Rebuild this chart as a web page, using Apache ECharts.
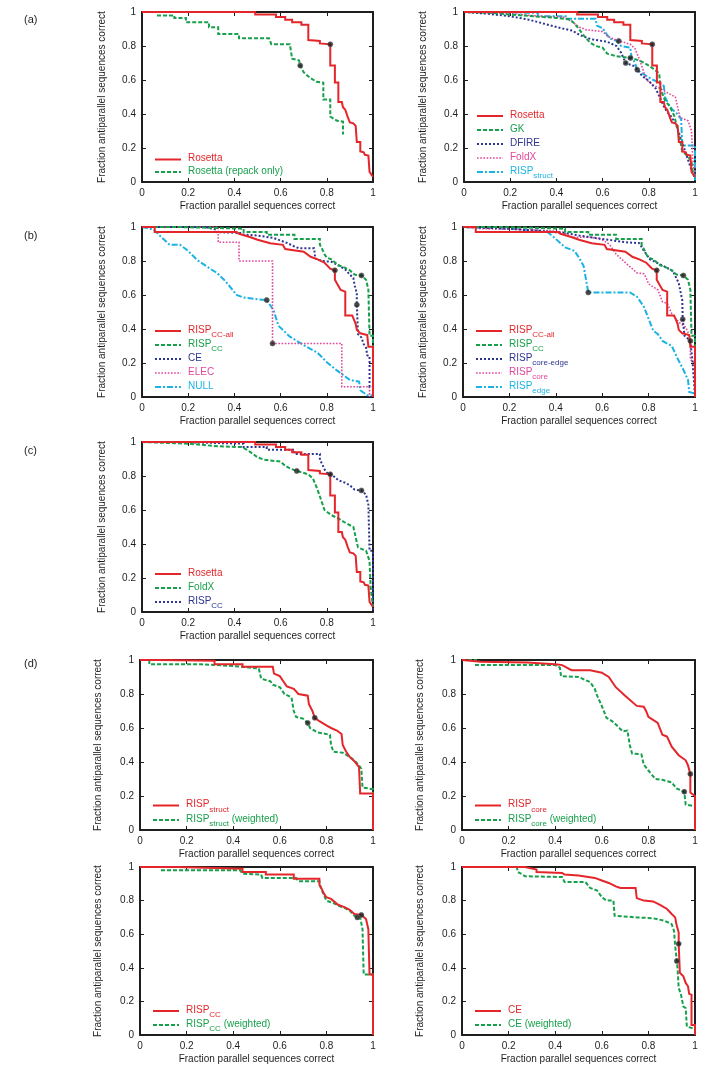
<!DOCTYPE html>
<html><head><meta charset="utf-8">
<script src="https://cdn.jsdelivr.net/npm/echarts@6/dist/echarts.min.js"></script>
<style>html,body{margin:0;padding:0;background:#fff}#c{width:716px;height:1078px}</style>
</head><body><div id="c"></div>
<script>
// ---------- tick labels / titles ----------
const tickLabels = ['0', '0.2', '0.4', '0.6', '0.8', '1'];
const xTitle = 'Fraction parallel sequences correct';
const yTitle = 'Fraction antiparallel sequences correct';
const panelLabels = ['(a)', '(b)', '(c)', '(d)'];

// ---------- curves: [fraction parallel correct, fraction antiparallel correct] ----------
const rosetta = [[0,1],[0.49,1],[0.49,0.985],[0.58,0.985],[0.58,0.97],[0.62,0.97],[0.62,0.955],[0.65,0.955],[0.65,0.94],[0.69,0.94],[0.69,0.925],[0.72,0.925],[0.72,0.835],[0.77,0.83],[0.77,0.815],[0.815,0.81],[0.815,0.685],[0.835,0.685],[0.835,0.585],[0.85,0.585],[0.85,0.47],[0.865,0.47],[0.87,0.44],[0.88,0.425],[0.89,0.385],[0.90,0.35],[0.915,0.345],[0.925,0.33],[0.93,0.235],[0.945,0.235],[0.945,0.18],[0.96,0.175],[0.965,0.16],[0.98,0.155],[0.985,0.06],[0.995,0.04],[1,0.03]];
const rosettaRepack = [[0.065,0.98],[0.14,0.98],[0.14,0.965],[0.19,0.965],[0.19,0.94],[0.29,0.94],[0.29,0.91],[0.33,0.91],[0.33,0.87],[0.42,0.87],[0.42,0.845],[0.55,0.845],[0.56,0.81],[0.64,0.81],[0.65,0.725],[0.68,0.715],[0.685,0.685],[0.70,0.645],[0.725,0.615],[0.755,0.59],[0.785,0.585],[0.785,0.485],[0.815,0.485],[0.815,0.385],[0.845,0.36],[0.87,0.355],[0.87,0.28]];
const gk = [[0,1],[0.12,0.995],[0.2,0.985],[0.3,0.975],[0.4,0.965],[0.46,0.955],[0.48,0.93],[0.5,0.895],[0.52,0.86],[0.545,0.82],[0.57,0.80],[0.6,0.79],[0.62,0.755],[0.66,0.74],[0.72,0.73],[0.76,0.715],[0.80,0.685],[0.83,0.655],[0.845,0.64],[0.85,0.55],[0.87,0.48],[0.89,0.445],[0.91,0.39],[0.93,0.28],[0.945,0.18],[0.97,0.15],[0.985,0.12],[0.99,0.06],[1,0.03]];
const dfire = [[0,1],[0.1,0.99],[0.2,0.975],[0.28,0.955],[0.35,0.93],[0.42,0.905],[0.47,0.89],[0.5,0.865],[0.55,0.84],[0.62,0.825],[0.66,0.80],[0.68,0.76],[0.70,0.70],[0.74,0.68],[0.77,0.625],[0.8,0.595],[0.83,0.55],[0.85,0.49],[0.87,0.43],[0.9,0.38],[0.92,0.33],[0.94,0.25],[0.96,0.17],[0.98,0.09],[1,0.02]];
const foldx = [[0,1],[0.2,0.99],[0.33,0.975],[0.43,0.97],[0.46,0.95],[0.48,0.93],[0.5,0.91],[0.53,0.895],[0.6,0.885],[0.62,0.86],[0.64,0.845],[0.67,0.83],[0.72,0.81],[0.74,0.785],[0.76,0.72],[0.79,0.60],[0.82,0.57],[0.85,0.55],[0.88,0.525],[0.915,0.50],[0.935,0.38],[0.97,0.36],[0.985,0.30],[0.99,0.14],[1,0.03]];
const rispStruct = [[0,1],[0.08,1],[0.08,0.995],[0.32,0.995],[0.32,0.975],[0.44,0.975],[0.44,0.96],[0.57,0.96],[0.575,0.92],[0.6,0.905],[0.615,0.875],[0.63,0.845],[0.66,0.83],[0.68,0.80],[0.72,0.79],[0.725,0.74],[0.74,0.70],[0.75,0.66],[0.77,0.64],[0.8,0.615],[0.82,0.60],[0.845,0.585],[0.865,0.565],[0.87,0.50],[0.885,0.46],[0.9,0.43],[0.92,0.405],[0.94,0.37],[0.945,0.215],[1,0.215],[1,0]];
const rispStructW = [[0.04,1],[0.04,0.975],[0.26,0.975],[0.26,0.965],[0.4,0.965],[0.4,0.955],[0.51,0.95],[0.52,0.89],[0.56,0.875],[0.57,0.855],[0.6,0.84],[0.62,0.80],[0.65,0.78],[0.66,0.70],[0.67,0.665],[0.70,0.655],[0.72,0.63],[0.73,0.60],[0.76,0.575],[0.815,0.56],[0.82,0.50],[0.83,0.46],[0.87,0.455],[0.9,0.43],[0.92,0.41],[0.94,0.38],[0.95,0.36],[0.955,0.25],[1,0.24],[1,0]];
const rispCCall = [[0,1],[0.055,1],[0.055,0.97],[0.41,0.97],[0.42,0.96],[0.47,0.94],[0.5,0.925],[0.555,0.905],[0.61,0.895],[0.62,0.87],[0.70,0.855],[0.73,0.825],[0.76,0.81],[0.79,0.79],[0.815,0.755],[0.835,0.745],[0.835,0.69],[0.86,0.63],[0.88,0.62],[0.88,0.48],[0.91,0.48],[0.925,0.43],[0.93,0.395],[0.945,0.375],[0.975,0.365],[0.98,0.295],[1,0.295],[1,0]];
const rispCC = [[0,1],[0.16,1],[0.16,0.99],[0.44,0.99],[0.44,0.97],[0.54,0.97],[0.54,0.955],[0.66,0.955],[0.66,0.93],[0.77,0.93],[0.77,0.895],[0.78,0.87],[0.79,0.84],[0.80,0.82],[0.82,0.81],[0.85,0.775],[0.88,0.76],[0.90,0.745],[0.92,0.72],[0.95,0.715],[0.97,0.69],[0.98,0.63],[0.985,0.36],[1,0.36],[1,0]];
const rispCCW = [[0.09,0.98],[0.43,0.98],[0.44,0.96],[0.52,0.955],[0.525,0.935],[0.67,0.935],[0.68,0.915],[0.77,0.915],[0.775,0.88],[0.79,0.83],[0.8,0.80],[0.83,0.785],[0.86,0.765],[0.88,0.755],[0.9,0.74],[0.92,0.71],[0.933,0.70],[0.945,0.70],[0.955,0.63],[0.96,0.36],[1,0.36],[1,0]];
const ce = [[0,1],[0.27,1],[0.27,0.99],[0.32,0.985],[0.32,0.97],[0.43,0.965],[0.44,0.955],[0.5,0.95],[0.5,0.94],[0.57,0.935],[0.6,0.92],[0.63,0.905],[0.66,0.885],[0.68,0.875],[0.745,0.875],[0.75,0.815],[0.78,0.80],[0.82,0.795],[0.85,0.775],[0.88,0.75],[0.9,0.72],[0.915,0.70],[0.92,0.66],[0.93,0.61],[0.93,0.543],[0.935,0.37],[0.95,0.35],[0.96,0.31],[0.97,0.29],[0.975,0.245],[0.985,0.24],[0.985,0.06],[1,0.06],[1,0]];
const ceW = [[0,1],[0.235,1],[0.24,0.97],[0.26,0.955],[0.27,0.945],[0.43,0.94],[0.44,0.91],[0.53,0.91],[0.55,0.875],[0.58,0.86],[0.6,0.82],[0.62,0.80],[0.65,0.80],[0.655,0.71],[0.75,0.70],[0.82,0.695],[0.87,0.68],[0.9,0.66],[0.91,0.62],[0.915,0.53],[0.922,0.44],[0.925,0.40],[0.93,0.28],[0.94,0.24],[0.95,0.17],[0.96,0.16],[0.965,0.05],[0.99,0.04],[1,0.04],[1,0]];
const elec = [[0,1],[0.33,1],[0.33,0.91],[0.42,0.91],[0.42,0.80],[0.565,0.80],[0.565,0.315],[0.865,0.315],[0.865,0.06],[0.985,0.06],[0.985,0]];
const nullModel = [[0,1],[0.05,0.985],[0.08,0.945],[0.12,0.895],[0.165,0.895],[0.195,0.865],[0.24,0.805],[0.3,0.75],[0.325,0.73],[0.355,0.69],[0.38,0.65],[0.41,0.60],[0.44,0.585],[0.5,0.575],[0.54,0.57],[0.57,0.51],[0.59,0.42],[0.64,0.355],[0.70,0.305],[0.76,0.26],[0.80,0.205],[0.845,0.155],[0.90,0.10],[0.94,0.09],[0.945,0.04],[0.975,0.01],[1,0.01]];
const rispCoreEdge = [[0,1],[0.2,0.99],[0.44,0.965],[0.5,0.95],[0.6,0.93],[0.7,0.91],[0.76,0.905],[0.78,0.86],[0.805,0.81],[0.865,0.77],[0.905,0.74],[0.93,0.67],[0.945,0.57],[0.947,0.457],[0.955,0.36],[0.965,0.35],[0.98,0.325],[0.99,0.2],[1,0]];
const rispCore = [[0,1],[0.08,0.99],[0.28,0.985],[0.4,0.975],[0.43,0.97],[0.47,0.94],[0.55,0.94],[0.6,0.925],[0.63,0.9],[0.66,0.84],[0.7,0.79],[0.75,0.73],[0.78,0.725],[0.79,0.70],[0.8,0.665],[0.84,0.63],[0.86,0.56],[0.88,0.55],[0.9,0.49],[0.93,0.44],[0.96,0.41],[0.97,0.38],[0.98,0.33],[0.98,0.22],[0.99,0.21],[1,0.2],[1,0]];
const rispCoreW = [[0,1],[0.06,1],[0.06,0.97],[0.4,0.97],[0.42,0.955],[0.425,0.905],[0.5,0.9],[0.55,0.87],[0.57,0.83],[0.58,0.79],[0.6,0.73],[0.62,0.66],[0.65,0.635],[0.69,0.58],[0.71,0.585],[0.72,0.50],[0.73,0.45],[0.77,0.445],[0.78,0.385],[0.8,0.35],[0.83,0.30],[0.86,0.295],[0.9,0.28],[0.92,0.245],[0.954,0.225],[0.96,0.15],[1,0.14],[1,0]];
const rispEdge = [[0,1],[0.2,0.99],[0.36,0.975],[0.4,0.93],[0.44,0.88],[0.48,0.86],[0.5,0.82],[0.52,0.77],[0.54,0.615],[0.72,0.615],[0.75,0.59],[0.78,0.53],[0.80,0.46],[0.82,0.39],[0.84,0.37],[0.86,0.33],[0.9,0.30],[0.92,0.24],[0.95,0.16],[0.97,0.10],[0.975,0.03],[1,0.02]];

// ---------- marked operating points ----------
const rosettaCut = [0.815, 0.81];
const rosettaRepackCut = [0.685, 0.685];
const gkCut = [0.72, 0.73];
const dfireCut = [0.70, 0.70];
const foldxCut = [0.67, 0.83];
const rispStructCut = [0.75, 0.66];
const rispStructWCut = [0.72, 0.63];
const rispCCallCut = [0.835, 0.745];
const rispCCCut = [0.95, 0.715];
const rispCCWCut = [0.933, 0.70];
const ceCut = [0.93, 0.543];
const ceWCut = [0.922, 0.44];
const elecCut = [0.565, 0.315];
const nullCut = [0.54, 0.57];
const rispCoreEdgeCut = [0.947, 0.457];
const rispCoreCut = [0.98, 0.33];
const rispCoreWCut = [0.954, 0.225];
const rispEdgeCut = [0.54, 0.615];

// ---------- styles / layout ----------
const FONT = '"Liberation Sans", Arial, Helvetica, sans-serif';
const INK = '#1e1e1e';
const STY = {
  red:   {color: '#e4262b', width: 2,   dash: 'solid'},
  green: {color: '#17a04c', width: 2,   dash: [4, 2]},
  navy:  {color: '#2d3591', width: 2,   dash: [2, 2]},
  pink:  {color: '#e2479b', width: 1.6, dash: [1.6, 1.6]},
  cyan:  {color: '#1db2e4', width: 2,   dash: [6, 2, 2, 2]}
};

const panels = [
  {box: [142, 12, 231, 170], gap: 12.5, yGap: 35, items: [
    {name: ['Rosetta'], data: rosetta, cut: rosettaCut, st: 'red'},
    {name: ['Rosetta (repack only)'], data: rosettaRepack, cut: rosettaRepackCut, st: 'green'}]},
  {box: [464, 12, 231, 170], gap: 14, yGap: 36, items: [
    {name: ['Rosetta'], data: rosetta, cut: rosettaCut, st: 'red'},
    {name: ['GK'], data: gk, cut: gkCut, st: 'green'},
    {name: ['DFIRE'], data: dfire, cut: dfireCut, st: 'navy'},
    {name: ['FoldX'], data: foldx, cut: foldxCut, st: 'pink'},
    {name: ['RISP', 'struct'], data: rispStruct, cut: rispStructCut, st: 'cyan'}]},
  {box: [142, 227, 231, 170], gap: 14, yGap: 35, items: [
    {name: ['RISP', 'CC-all'], data: rispCCall, cut: rispCCallCut, st: 'red'},
    {name: ['RISP', 'CC'], data: rispCC, cut: rispCCCut, st: 'green'},
    {name: ['CE'], data: ce, cut: ceCut, st: 'navy'},
    {name: ['ELEC'], data: elec, cut: elecCut, st: 'pink'},
    {name: ['NULL'], data: nullModel, cut: nullCut, st: 'cyan'}]},
  {box: [463, 227, 232, 170], gap: 14, yGap: 35, items: [
    {name: ['RISP', 'CC-all'], data: rispCCall, cut: rispCCallCut, st: 'red'},
    {name: ['RISP', 'CC'], data: rispCC, cut: rispCCCut, st: 'green'},
    {name: ['RISP', 'core-edge'], data: rispCoreEdge, cut: rispCoreEdgeCut, st: 'navy'},
    {name: ['RISP', 'core'], data: rispCore, cut: rispCoreCut, st: 'pink'},
    {name: ['RISP', 'edge'], data: rispEdge, cut: rispEdgeCut, st: 'cyan'}]},
  {box: [142, 442, 231, 170], gap: 14, yGap: 35, items: [
    {name: ['Rosetta'], data: rosetta, cut: rosettaCut, st: 'red'},
    {name: ['FoldX'], data: foldx, cut: foldxCut, st: 'green'},
    {name: ['RISP', 'CC'], data: rispCC, cut: rispCCCut, st: 'navy'}]},
  {box: [140, 660, 233, 170], gap: 14.5, yGap: 37, items: [
    {name: ['RISP', 'struct'], data: rispStruct, cut: rispStructCut, st: 'red'},
    {name: ['RISP', 'struct', ' (weighted)'], data: rispStructW, cut: rispStructWCut, st: 'green'}]},
  {box: [462, 660, 233, 170], gap: 14.5, yGap: 37, items: [
    {name: ['RISP', 'core'], data: rispCore, cut: rispCoreCut, st: 'red'},
    {name: ['RISP', 'core', ' (weighted)'], data: rispCoreW, cut: rispCoreWCut, st: 'green'}]},
  {box: [140, 867, 233, 168], gap: 14, yGap: 37, items: [
    {name: ['RISP', 'CC'], data: rispCC, cut: rispCCCut, st: 'red'},
    {name: ['RISP', 'CC', ' (weighted)'], data: rispCCW, cut: rispCCWCut, st: 'green'}]},
  {box: [462, 867, 233, 168], gap: 14, yGap: 37, items: [
    {name: ['CE'], data: ce, cut: ceCut, st: 'red'},
    {name: ['CE', '', ' (weighted)'], data: ceW, cut: ceWCut, st: 'green'}]}
];
const panelLabelPos = [[24, 20], [24, 236], [24, 451], [24, 664]];

// ---------- build option ----------
const grids = [], xAxes = [], yAxes = [], series = [], graphics = [];
const axisBase = (gi) => ({
  type: 'value', gridIndex: gi, min: 0, max: 1, interval: 0.2,
  splitLine: {show: false},
  axisLine: {show: true, onZero: false, lineStyle: {color: INK, width: 2}},
  axisTick: {show: true, inside: true, length: 4, lineStyle: {color: INK, width: 1}},
  axisLabel: {show: true, margin: 6, color: INK, fontSize: 10, fontFamily: FONT,
              formatter: v => tickLabels[Math.round(v * 5)]},
  nameTextStyle: {color: INK, fontSize: 10, fontFamily: FONT}
});

panels.forEach((p, gi) => {
  const [L, T, W, H] = p.box;
  grids.push({left: L, top: T, width: W, height: H, show: false});
  xAxes.push(Object.assign(axisBase(gi), {position: 'bottom', name: xTitle, nameLocation: 'middle', nameGap: 19}));
  xAxes.push(Object.assign(axisBase(gi), {position: 'top', axisLabel: {show: false}}));
  yAxes.push(Object.assign(axisBase(gi), {position: 'left', name: yTitle, nameLocation: 'middle', nameGap: p.yGap}));
  yAxes.push(Object.assign(axisBase(gi), {position: 'right', axisLabel: {show: false}}));
  const n = p.items.length;
  p.items.forEach((it, k) => {
    const s = STY[it.st];
    series.push({
      type: 'line', xAxisIndex: 2 * gi, yAxisIndex: 2 * gi, data: it.data,
      symbol: 'none', showSymbol: false, clip: false, silent: true, animation: false,
      z: 10 - k,
      lineStyle: {color: s.color, width: s.width, type: s.dash, cap: 'butt', join: 'miter'}
    });
    const rowY = T + H - 10 - (n - 1 - k) * p.gap;
    graphics.push({type: 'line', silent: true, z: 50,
      shape: {x1: L + 13, y1: rowY, x2: L + 39, y2: rowY},
      style: {stroke: s.color, lineWidth: s.width, lineDash: s.dash === 'solid' ? null : s.dash}});
    const rich = {
      m: {fontSize: 10, fontFamily: FONT, fill: s.color, lineHeight: 12, verticalAlign: 'top'},
      s: {fontSize: 8, fontFamily: FONT, fill: s.color, lineHeight: 8, padding: [6, 0, 0, 0], verticalAlign: 'top'}
    };
    let txt = '{m|' + it.name[0] + '}';
    if (it.name[1]) txt += '{s|' + it.name[1] + '}';
    if (it.name[2]) txt += '{m|' + it.name[2] + '}';
    graphics.push({type: 'text', silent: true, z: 50, x: L + 46, y: rowY - 6,
      style: {text: txt, rich: rich, fill: s.color, fontSize: 10, fontFamily: FONT, align: 'left', verticalAlign: 'top'}});
  });
  series.push({
    type: 'scatter', xAxisIndex: 2 * gi, yAxisIndex: 2 * gi, z: 20, silent: true, animation: false,
    data: p.items.map(it => it.cut), symbolSize: 5, clip: false,
    itemStyle: {color: '#1a1a1a', borderColor: '#555', borderWidth: 0.8}
  });
});

panelLabels.forEach((t, i) => {
  graphics.push({type: 'text', silent: true, x: panelLabelPos[i][0], y: panelLabelPos[i][1],
    style: {text: t, fontSize: 11, fontFamily: FONT, fill: INK, align: 'left', verticalAlign: 'middle'}});
});

const chart = echarts.init(document.getElementById('c'), null, {renderer: 'canvas'});
chart.setOption({
  animation: false,
  backgroundColor: '#ffffff',
  grid: grids, xAxis: xAxes, yAxis: yAxes, series: series, graphic: graphics
});
</script>
</body></html>
